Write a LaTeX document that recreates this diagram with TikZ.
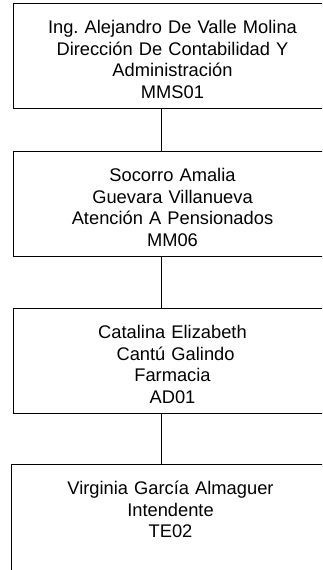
\documentclass[tikz,border=0pt]{standalone}
\usepackage{fontspec}
\setmainfont{Liberation Sans}
\frenchspacing
\begin{document}
\begin{tikzpicture}[x=1pt,y=-1pt,
  box/.style={draw, line width=1pt, rectangle, anchor=north west,
    inner xsep=0pt, inner ysep=0pt, text width=318pt, align=center,
    font=\fontsize{18.3}{21.7}\selectfont, text height=30pt, text depth=75pt},
  link/.style={line width=1pt}]
\useasboundingbox (0,0) rectangle (322,570);
\clip (0,0) rectangle (322,570);
\fill[white] (0,0) rectangle (322,570);
\coordinate (cx) at (161,0);
\node[box] (b1) at (13,3) {Ing.\ Alejandro De Valle Molina\\Dirección De Contabilidad Y\\Administración\\MMS01};
\node[box] (b2) at (13,151) {Socorro Amalia\\Guevara Villanueva\\Atención A Pensionados\\MM06};
\node[box] (b3) at (13,308) {Catalina Elizabeth\\\ Cantú Galindo\\Farmacia\\AD01};
\node[box, text depth=90pt] (b4) at (11,464) {Virginia García Almaguer\\Intendente\\TE02};
\draw[link] (b1.south -| cx) -- (b2.north -| cx);
\draw[link] (b2.south -| cx) -- (b3.north -| cx);
\draw[link] (b3.south -| cx) -- (b4.north -| cx);
\end{tikzpicture}
\end{document}
